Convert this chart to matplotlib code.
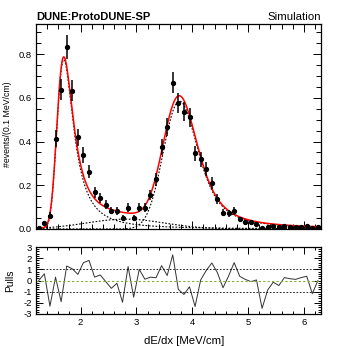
import numpy as np
import matplotlib
matplotlib.use("Agg")
import matplotlib.pyplot as plt
from matplotlib.ticker import MultipleLocator, FormatStrFormatter

plt.rcParams['font.family'] = ['Liberation Sans', 'DejaVu Sans']
plt.rcParams['axes.unicode_minus'] = False

# binned data: 0.1 MeV/cm bins between 1.2 and 6.3
bin_centers = np.round(np.arange(1.25, 6.3, 0.1), 2)
events = [0.005, 0.026, 0.061, 0.413, 0.636, 0.834, 0.632, 0.420, 0.339, 0.262,
          0.168, 0.142, 0.112, 0.084, 0.082, 0.052, 0.098, 0.052, 0.098, 0.098,
          0.156, 0.227, 0.374, 0.465, 0.670, 0.578, 0.537, 0.511, 0.346, 0.319,
          0.275, 0.212, 0.136, 0.075, 0.072, 0.082, 0.044, 0.031, 0.030, 0.023,
          0.006, 0.011, 0.014, 0.008, 0.013, 0.011, 0.010, 0.010, 0.012, 0.003,
          0.008]
errors = [0.005, 0.010, 0.015, 0.038, 0.048, 0.055, 0.048, 0.039, 0.035, 0.031,
          0.025, 0.023, 0.020, 0.017, 0.017, 0.014, 0.019, 0.014, 0.019, 0.019,
          0.024, 0.029, 0.037, 0.041, 0.049, 0.046, 0.044, 0.043, 0.035, 0.034,
          0.031, 0.028, 0.022, 0.016, 0.016, 0.017, 0.013, 0.011, 0.010, 0.009,
          0.005, 0.006, 0.007, 0.006, 0.007, 0.006, 0.006, 0.006, 0.007, 0.004,
          0.005]
pulls = [0.0, 0.6, -2.3, 0.3, -1.9, 1.3, 1.05, 0.55, 1.6, 1.8,
         0.3, 0.5, -0.1, -0.7, -0.25, -1.95, 1.25, -1.5, 1.0, 0.12,
         0.3, 0.25, 1.33, 0.45, 2.3, -0.8, -1.25, -0.56, -2.33, 0.05,
         0.9, 1.57, 0.7, -0.65, 0.4, 1.6, 0.37, 0.1, -0.1, 0.05,
         -2.5, -0.85, -0.15, -0.45, 0.26, 0.16, 0.1, 0.26, 0.38, -1.18,
         0.0]

# fitted components: Landau (x) Gauss peaks + broad gaussian
peak_mode = [1.70, 3.77]
peak_xi = [0.075, 0.09]
peak_sigma = [0.07, 0.24]
peak_height = [0.775, 0.585]
bkg_mean, bkg_sigma, bkg_height = 2.8, 0.7, 0.045


def landau(lam):
    lam = np.asarray(lam, dtype=float)
    out = np.zeros_like(lam)
    t = np.concatenate([np.geomspace(1e-7, 0.5, 800), np.linspace(0.5, 40, 8000)[1:]])
    base = -t * np.log(t)
    s = np.sin(np.pi * t)
    idx = np.where(lam > -3.5)[0]
    for chunk in np.array_split(idx, max(1, len(idx) // 200)):
        integ = np.exp(base[None, :] - np.outer(lam[chunk], t)) * s[None, :]
        out[chunk] = np.trapezoid(integ, t, axis=1) / np.pi
    return np.clip(out, 0, None)


def langau(x, mode, xi, sigma, height):
    du = 0.01
    u = np.arange(-3, 8, du)
    land = landau(u / xi)
    k = np.arange(-5 * sigma, 5 * sigma + du, du)
    conv = np.convolve(land, np.exp(-0.5 * (k / sigma) ** 2), mode='same')
    u_peak = u[np.argmax(conv)]
    return height * np.interp(x - mode + u_peak, u, conv, left=0, right=0) / conv.max()


xs = np.linspace(1.2, 6.3, 600)
comp1 = langau(xs, peak_mode[0], peak_xi[0], peak_sigma[0], peak_height[0])
comp2 = langau(xs, peak_mode[1], peak_xi[1], peak_sigma[1], peak_height[1])
comp3 = bkg_height * np.exp(-0.5 * ((xs - bkg_mean) / bkg_sigma) ** 2)
total = comp1 + comp2 + comp3

fig = plt.figure(figsize=(3.57, 3.46), dpi=100)
ax = fig.add_axes([0.1008, 0.3382, 0.7975, 0.5925])
axp = fig.add_axes([0.1008, 0.0925, 0.7975, 0.1936])

dot = dict(color='black', lw=0.8, ls=(0, (1.5, 1.5)))
ax.plot(xs, comp1, **dot)
ax.plot(xs, comp2, **dot)
ax.plot(xs, comp3, **dot)
ax.plot(xs, total, color='red', lw=1.1)
ax.errorbar(bin_centers, events, yerr=errors, fmt='o', color='black',
            ms=2.8, elinewidth=1.1, capsize=0)

ax.set_xlim(1.2, 6.3)
ax.set_ylim(0, 0.938)
ax.set_ylabel('#events/(0.1 MeV/cm)', fontsize=6.3)
ax.yaxis.set_label_coords(-0.083, 0.51)
ax.yaxis.set_major_locator(MultipleLocator(0.2))
ax.yaxis.set_minor_locator(MultipleLocator(0.05))
ax.yaxis.set_major_formatter(FormatStrFormatter('%.1f'))
ax.xaxis.set_major_locator(MultipleLocator(1))
ax.xaxis.set_minor_locator(MultipleLocator(0.2))
ax.tick_params(labelbottom=False)
ax.text(0.0, 1.01, 'DUNE:ProtoDUNE-SP', transform=ax.transAxes, fontsize=8.0,
        fontweight='bold', ha='left', va='bottom')
ax.text(1.0, 1.01, 'Simulation', transform=ax.transAxes, fontsize=8.2,
        ha='right', va='bottom')

axp.plot(bin_centers, pulls, color='#333333', lw=0.7)
axp.axhline(1, color='black', lw=0.6, ls=(0, (2, 2)))
axp.axhline(-1, color='black', lw=0.6, ls=(0, (2, 2)))
axp.axhline(0, color='#7fb030', lw=0.8, ls=(0, (2, 2)))
axp.set_xlim(1.2, 6.3)
axp.set_ylim(-3, 3)
axp.yaxis.set_major_locator(MultipleLocator(1))
axp.yaxis.set_minor_locator(MultipleLocator(0.2))
axp.xaxis.set_major_locator(MultipleLocator(1))
axp.xaxis.set_minor_locator(MultipleLocator(0.2))
axp.set_ylabel('Pulls', fontsize=7.4)
axp.yaxis.set_label_coords(-0.075, 0.5)
axp.set_xlabel('dE/dx [MeV/cm]', fontsize=8.2)
axp.xaxis.set_label_coords(0.52, -0.33)

for a, (maj, mnr) in zip([ax, axp], [(6, 3.5), (5, 2.5)]):
    a.tick_params(which='both', direction='in', top=True, right=True,
                  labelsize=6.8, width=0.7, pad=3)
    a.tick_params(which='major', length=maj)
    a.tick_params(which='minor', length=mnr)
    for sp in a.spines.values():
        sp.set_linewidth(0.9)

fig.savefig('out.png', dpi=100)
